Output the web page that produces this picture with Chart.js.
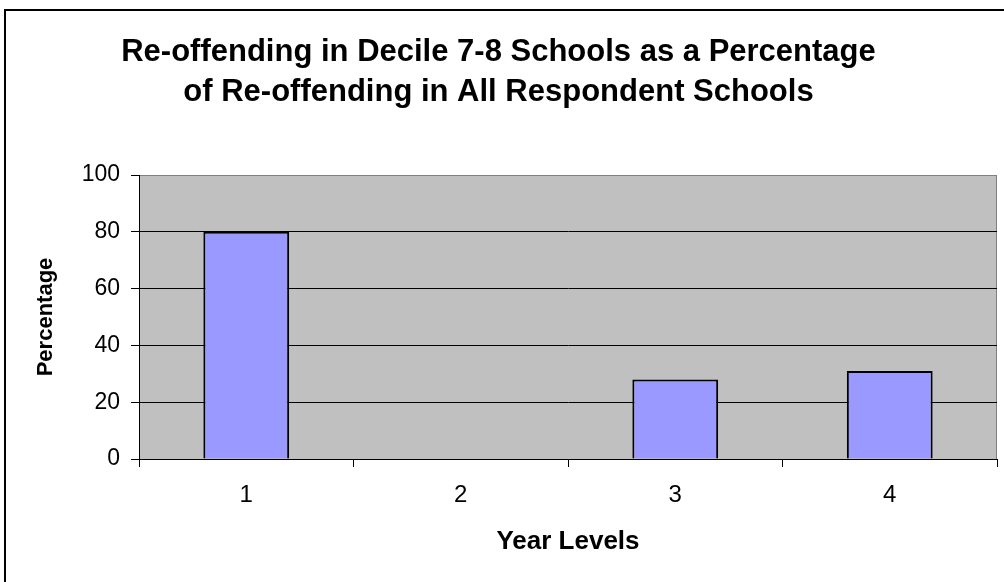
<!DOCTYPE html>
<html>
<head>
<meta charset="utf-8">
<script src="https://cdn.jsdelivr.net/npm/chart.js@4"></script>
<style>
  body { margin: 0; background: #fff; }
  #wrap { position: relative; width: 1004px; height: 582px; }
  #frame { position: absolute; left: 4px; top: 9px; right: -2px; bottom: -2px;
           border-top: 2px solid #000; border-left: 2px solid #000; pointer-events: none; }
</style>
</head>
<body>
<div id="wrap">
  <canvas id="reoffChart" width="1004" height="582"></canvas>
  <div id="frame"></div>
</div>
<script>
const yearLevels = ['1', '2', '3', '4'];
const percentages = [80, 0, 28, 31];
const yTicks = [0, 20, 40, 60, 80, 100];
const titleLines = ['Re-offending in Decile 7-8 Schools as a Percentage', 'of Re-offending in All Respondent Schools'];

const FONT = 'Liberation Sans, Arial, sans-serif';

// gray plot background like the old Excel charts
const plotBg = {
    id: 'plotBg',
    beforeDraw(chart) {
        const { ctx, chartArea: a } = chart;
        ctx.save();
        ctx.fillStyle = '#c0c0c0';
        ctx.fillRect(a.left, a.top, a.right - a.left, a.bottom - a.top);
        ctx.strokeStyle = '#808080';
        ctx.lineWidth = 1;
        ctx.beginPath();
        ctx.moveTo(a.left, a.top + 0.5);
        ctx.lineTo(a.right - 0.5, a.top + 0.5);
        ctx.lineTo(a.right - 0.5, a.bottom);
        ctx.stroke();
        ctx.restore();
    }
};

new Chart(document.getElementById('reoffChart'), {
    type: 'bar',
    data: {
        labels: yearLevels,
        datasets: [{
            data: percentages,
            backgroundColor: '#9999ff',
            borderColor: '#000',
            borderWidth: 2,
            barPercentage: 0.4,
            categoryPercentage: 1
        }]
    },
    options: {
        responsive: false,
        animation: false,
        layout: { padding: { left: 0, right: 7, top: 0, bottom: 0 } },
        plugins: {
            legend: { display: false },
            tooltip: { enabled: false },
            title: {
                display: true,
                text: titleLines,
                color: '#000',
                font: { family: FONT, size: 31, weight: 'bold', lineHeight: 40 / 31 },
                padding: { top: 32, bottom: 63 }
            }
        },
        scales: {
            x: {
                offset: true,
                grid: { offset: true, drawOnChartArea: false, drawTicks: true, tickLength: 8, color: '#000' },
                border: { color: '#000', width: 1 },
                ticks: { color: '#000', padding: 14, font: { family: FONT, size: 24 } },
                title: {
                    display: true, text: 'Year Levels', color: '#000',
                    font: { family: FONT, size: 26, weight: 'bold' },
                    padding: { top: 0, bottom: 25 }
                },
                afterFit(scale) { scale.height = 123; }
            },
            y: {
                min: 0,
                max: 100,
                afterBuildTicks(scale) { scale.ticks = yTicks.map(v => ({ value: v })); },
                grid: {
                    color: ctx => ctx.tick && ctx.tick.value === 100 ? '#808080' : '#000',
                    tickColor: '#000',
                    tickLength: 8,
                    lineWidth: 1
                },
                border: { color: '#000', width: 1 },
                ticks: { color: '#000', padding: 11, font: { family: FONT, size: 23 } },
                title: {
                    display: true, text: 'Percentage', color: '#000',
                    font: { family: FONT, size: 22, weight: 'bold' },
                    padding: { top: 33, bottom: 0 }
                },
                afterFit(scale) { scale.width = 139; }
            }
        }
    },
    plugins: [plotBg]
});
</script>
</body>
</html>
